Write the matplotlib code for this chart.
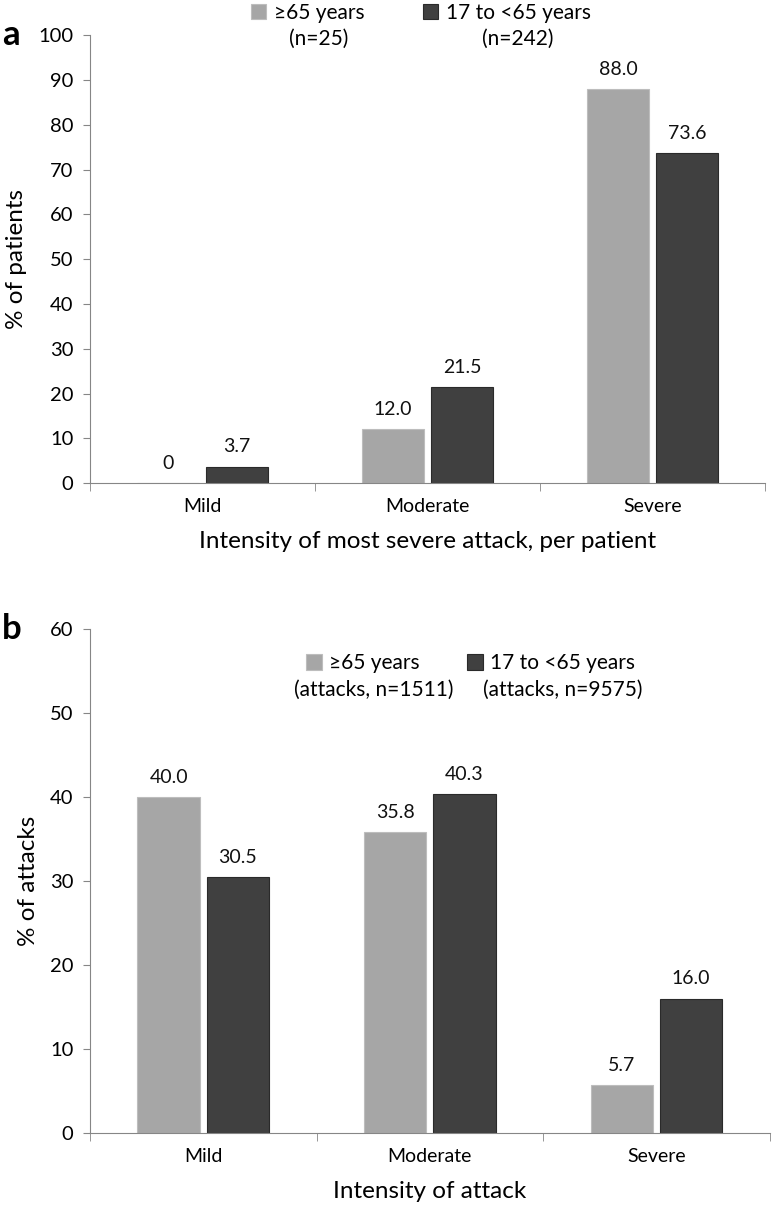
import numpy as np
import matplotlib.pyplot as plt

plt.rcParams['font.family'] = ['Lato', 'DejaVu Sans']

categories = ["Mild", "Moderate", "Severe"]

# panel a: % of patients by most severe attack
a_old = [0.0, 12.0, 88.0]
a_young = [3.7, 21.5, 73.6]
a_old_labels = ["0", "12.0", "88.0"]
a_young_labels = ["3.7", "21.5", "73.6"]

# panel b: % of attacks
b_old = [40.0, 35.8, 5.7]
b_young = [30.5, 40.3, 16.0]
b_old_labels = ["40.0", "35.8", "5.7"]
b_young_labels = ["30.5", "40.3", "16.0"]

light = "#a6a6a6"
dark = "#404040"
axis_grey = "#868686"


def draw_panel(ax, old, young, old_lab, young_lab, ymax, ystep, ylabel, xlabel,
               leg_names, leg_n, leg_y, leg_x, colsp, letter):
    x = np.arange(len(categories))
    w = 0.275
    off = 0.153
    b1 = ax.bar(x - off, old, w, color=light, edgecolor="#bdbdbd", linewidth=0.8)
    b2 = ax.bar(x + off, young, w, color=dark, edgecolor="#2a2a2a", linewidth=0.8)
    for bars, labs in ((b1, old_lab), (b2, young_lab)):
        for r, t in zip(bars, labs):
            ax.annotate(t, (r.get_x() + r.get_width() / 2, r.get_height()),
                        xytext=(0, 8), textcoords="offset points",
                        ha="center", va="bottom", fontsize=14, color="#111111")
    ax.set_xlim(-0.5, len(categories) - 0.5)
    ax.set_ylim(0, ymax)
    ax.set_yticks(np.arange(0, ymax + 1, ystep))
    ax.set_xticks(x)
    ax.set_xticklabels(categories, fontsize=14)
    ax.set_xticks(np.arange(-0.5, len(categories)), minor=True)
    ax.tick_params(axis="x", which="major", length=0, pad=11)
    ax.tick_params(axis="x", which="minor", length=6, color=axis_grey, direction="out")
    ax.tick_params(axis="y", length=5, color=axis_grey, labelsize=14.5, pad=7)
    for s in ("top", "right"):
        ax.spines[s].set_visible(False)
    for s in ("left", "bottom"):
        ax.spines[s].set_color(axis_grey)
    ax.set_ylabel(ylabel, fontsize=17.5, labelpad=8)
    ax.set_xlabel(xlabel, fontsize=17.5, labelpad=11)

    leg = ax.legend([b1, b2], leg_names, loc="center", bbox_to_anchor=(leg_x, leg_y),
                    ncol=2, frameon=False, fontsize=15, handlelength=0.75,
                    handleheight=0.75, handletextpad=0.35, columnspacing=colsp,
                    bbox_transform=ax.transAxes)
    fig.canvas.draw()
    rend = fig.canvas.get_renderer()
    inv = ax.transAxes.inverted()
    for t, n in zip(leg.get_texts(), leg_n):
        bb = t.get_window_extent(rend)
        cx, cy = inv.transform(((bb.x0 + bb.x1) / 2, bb.y0))
        ax.text(cx, cy - 0.014, n, transform=ax.transAxes, ha="center", va="top",
                fontsize=15)
    ax.text(-0.13, 1.0, letter, transform=ax.transAxes, fontsize=25,
            fontweight="bold", va="center", ha="left")


fig = plt.figure(figsize=(7.74, 12.11), dpi=100)
ax1 = fig.add_axes([0.1163, 0.601, 0.872, 0.370])
ax2 = fig.add_axes([0.1163, 0.0644, 0.878, 0.4162])

draw_panel(ax1, a_old, a_young, a_old_labels, a_young_labels, 100, 10,
           "% of patients", "Intensity of most severe attack, per patient",
           ["≥65 years", "17 to <65 years"], ["(n=25)", "(n=242)"],
           1.05, 0.49, 2.8, "a")
draw_panel(ax2, b_old, b_young, b_old_labels, b_young_labels, 60, 10,
           "% of attacks", "Intensity of attack",
           ["≥65 years", "17 to <65 years"],
           ["(attacks, n=1511)", "(attacks, n=9575)"],
           0.932, 0.56, 2.3, "b")

fig.savefig("out.png", dpi=100)
